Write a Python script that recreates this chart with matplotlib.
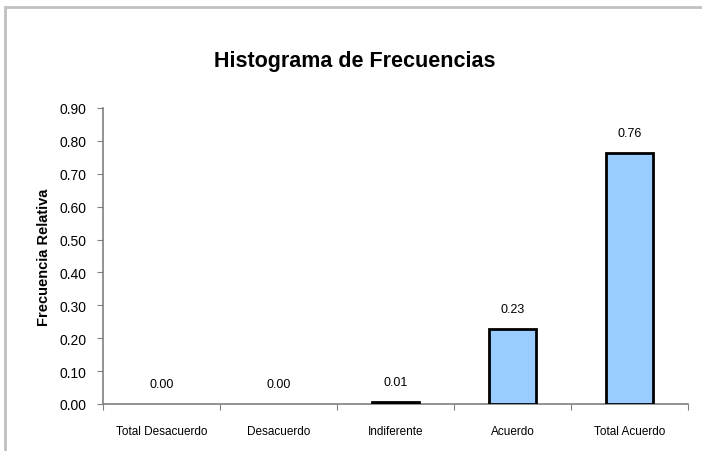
import matplotlib
matplotlib.use("Agg")
import matplotlib.pyplot as plt
from matplotlib.patches import Rectangle
import numpy as np

categories = ["Total Desacuerdo", "Desacuerdo", "Indiferente", "Acuerdo", "Total Acuerdo"]
values = [0.0, 0.0, 0.007, 0.229, 0.764]
yticks = [0.0, 0.1, 0.2, 0.3, 0.4, 0.5, 0.6, 0.7, 0.8, 0.9]

plt.rcParams['font.family'] = ['Liberation Sans', 'DejaVu Sans']

fig = plt.figure(figsize=(7.02, 4.52), dpi=100)
ax = fig.add_axes([103/702, 1-405/452, (688-103)/702, (405-109)/452])

x = np.arange(len(categories))
lws = [2 if v > 0 else 0 for v in values]
ax.bar(x, values, width=0.4, color="#99ccff", edgecolor="black", linewidth=lws, zorder=3)
for xi, v in zip(x, values):
    ax.annotate(f"{v:.2f}", (xi, v), xytext=(0, 10), textcoords="offset points",
                ha="center", va="bottom", fontsize=9)

ax.set_xlim(-0.5, len(categories) - 0.5)
ax.set_ylim(0, 0.9)
ax.set_yticks(yticks)
ax.set_yticklabels([f"{t:.2f}" for t in yticks], fontsize=10)
ax.set_xticks(np.arange(len(categories) + 1) - 0.5)
ax.set_xticklabels([])
ax.set_xticks(x, minor=True)
ax.set_xticklabels(categories, minor=True, fontsize=8.5)
ax.tick_params(axis='x', which='minor', length=0, pad=15)
ax.tick_params(axis='x', which='major', length=4, color="#808080", direction='out')
ax.tick_params(axis='y', length=4, color="#808080", direction='out', pad=8)
for s in ["top", "right"]:
    ax.spines[s].set_visible(False)
for s in ["left", "bottom"]:
    ax.spines[s].set_color("#808080")
    ax.spines[s].set_linewidth(1.2)

ax.set_ylabel("Frecuencia Relativa", fontsize=10.5, fontweight="bold", labelpad=6)
fig.text(355/702, 1 - 62/452, "Histograma de Frecuencias",
         ha="center", va="center", fontsize=15.5, fontweight="bold")

fig.patches.append(Rectangle((5/702, -0.1), 1.2, 1 - 8/452 + 0.1, transform=fig.transFigure,
                             fill=False, edgecolor="#c0c0c0", linewidth=2))

fig.savefig("out.png", dpi=100)
